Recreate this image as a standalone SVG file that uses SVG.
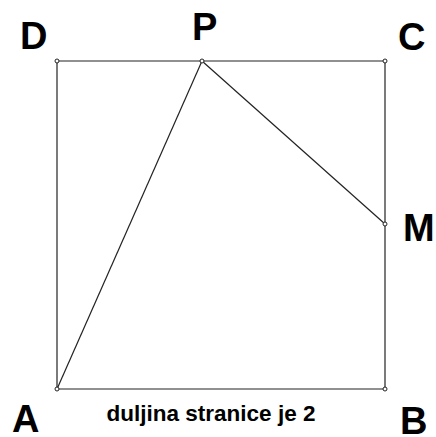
<svg xmlns="http://www.w3.org/2000/svg" width="436" height="437" viewBox="0 0 436 437">
<style>
.seg{stroke:#222;stroke-width:1.2;fill:none}
.pt{fill:#fff;stroke:#222;stroke-width:1}
.lbl{font-family:"Liberation Sans",Arial,sans-serif;font-weight:bold;font-size:38px;fill:#000}
.cap{font-family:"Liberation Sans",Arial,sans-serif;font-weight:bold;font-size:22.5px;fill:#000}
</style>
<rect width="436" height="437" fill="#fff"/>
<g id="connectors">
<line class="seg" x1="57" y1="61" x2="385" y2="61"/>
<line class="seg" x1="385" y1="61" x2="385" y2="389"/>
<line class="seg" x1="57" y1="389" x2="385" y2="389"/>
<line class="seg" x1="57" y1="61" x2="57" y2="389"/>
<line class="seg" x1="57" y1="389" x2="202" y2="61"/>
<line class="seg" x1="202" y1="61" x2="385" y2="224"/>
</g>
<g id="A"><circle class="pt" cx="57" cy="389" r="2"/><text class="lbl" x="12" y="432">A</text></g>
<g id="B"><circle class="pt" cx="385" cy="389" r="2"/><text class="lbl" x="400" y="434">B</text></g>
<g id="C"><circle class="pt" cx="385" cy="61" r="2"/><text class="lbl" x="398" y="50">C</text></g>
<g id="D"><circle class="pt" cx="57" cy="61" r="2"/><text class="lbl" x="20" y="49">D</text></g>
<g id="P"><circle class="pt" cx="202" cy="61" r="2"/><text class="lbl" x="192" y="40">P</text></g>
<g id="M"><circle class="pt" cx="385" cy="224" r="2"/><text class="lbl" x="403" y="241">M</text></g>
<g id="caption"><text class="cap" x="211" y="421" text-anchor="middle">duljina stranice je 2</text></g>
</svg>
